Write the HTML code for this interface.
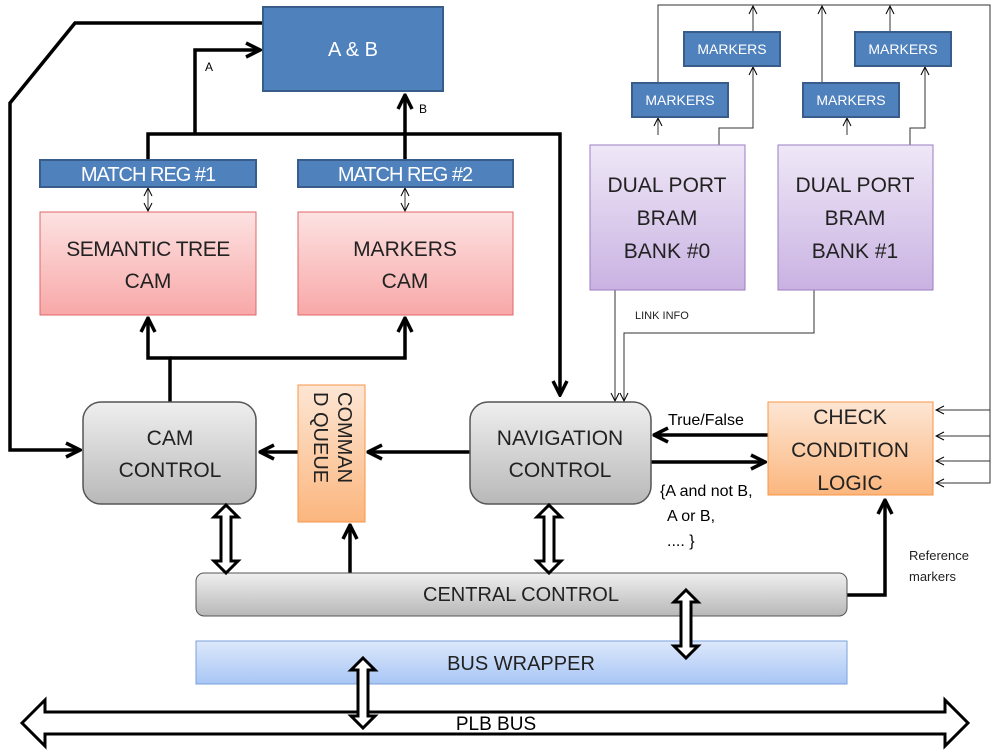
<!DOCTYPE html>
<html><head><meta charset="utf-8"><style>html,body{margin:0;padding:0;background:#fff}svg{display:block}text{font-family:"Liberation Sans",sans-serif}</style></head><body>
<svg width="1000" height="752" viewBox="0 0 1000 752" xmlns="http://www.w3.org/2000/svg">
<defs>
<linearGradient id="pink" x1="0" y1="0" x2="0" y2="1"><stop offset="0" stop-color="#fde2e2"/><stop offset="1" stop-color="#f8a8a8"/></linearGradient>
<linearGradient id="gray" x1="0" y1="0" x2="0" y2="1"><stop offset="0" stop-color="#efefef"/><stop offset="1" stop-color="#b8b8b8"/></linearGradient>
<linearGradient id="org" x1="0" y1="0" x2="0" y2="1"><stop offset="0" stop-color="#fde6d4"/><stop offset="1" stop-color="#fbb67e"/></linearGradient>
<linearGradient id="purp" x1="0" y1="0" x2="0" y2="1"><stop offset="0" stop-color="#efe8f7"/><stop offset="1" stop-color="#c9b2e2"/></linearGradient>
<linearGradient id="lblue" x1="0" y1="0" x2="0" y2="1"><stop offset="0" stop-color="#dde8fb"/><stop offset="1" stop-color="#a8c6f5"/></linearGradient>
<marker id="ah" viewBox="0 0 10 10" refX="9" refY="5" markerWidth="5" markerHeight="5" orient="auto"><path d="M1,1 L9,5 L1,9" fill="none" stroke="#000" stroke-width="2"/></marker>
<marker id="ahs" viewBox="0 0 10 10" refX="9" refY="5" markerWidth="10" markerHeight="10" orient="auto-start-reverse"><path d="M1,1 L9,5 L1,9" fill="none" stroke="#000" stroke-width="1"/></marker>
</defs>
<g stroke="#000" stroke-width="3.5" fill="none">
<path d="M263,23 H75 L10,103 V450 H80" marker-end="url(#ah)"/>
<path d="M195,134 V50 H260" marker-end="url(#ah)"/>
<path d="M148,160 V134 H560 V395" marker-end="url(#ah)"/>
<path d="M405,160 V95" marker-end="url(#ah)"/>
<path d="M170,402 V358 H148 V318"  marker-end="url(#ah)"/>
<path d="M170,358 H405 V318" marker-end="url(#ah)"/>
<path d="M298,452 H260" marker-end="url(#ah)"/>
<path d="M470,452 H368" marker-end="url(#ah)"/>
<path d="M350,573 V525" marker-end="url(#ah)"/>
<path d="M768,435 H654" marker-end="url(#ah)"/>
<path d="M651,462 H765" marker-end="url(#ah)"/>
<path d="M847,595 H885 V500" marker-end="url(#ah)"/>
</g>
<g stroke="#333" stroke-width="1" fill="none">
<path d="M148,188 V211" marker-end="url(#ahs)" marker-start="url(#ahs)"/>
<path d="M405,188 V211" marker-end="url(#ahs)" marker-start="url(#ahs)"/>
<path d="M658,83 V5 H990 V483 H936" marker-end="url(#ahs)"/>
<path d="M990,410 H936" marker-end="url(#ahs)"/>
<path d="M990,436 H936" marker-end="url(#ahs)"/>
<path d="M990,461 H936" marker-end="url(#ahs)"/>
<path d="M753,32 V6" marker-end="url(#ahs)"/>
<path d="M822,83 V6" marker-end="url(#ahs)"/>
<path d="M890,32 V6" marker-end="url(#ahs)"/>
<path d="M658,135 V118" marker-end="url(#ahs)"/>
<path d="M847,135 V118" marker-end="url(#ahs)"/>
<path d="M719,145 V128 H753 V67" marker-end="url(#ahs)"/>
<path d="M910,145 V128 H925 V67" marker-end="url(#ahs)"/>
<path d="M615,290 V401" marker-end="url(#ahs)"/>
<path d="M814,290 V333 H624 V401" marker-end="url(#ahs)"/>
</g>
<rect x="263" y="7" width="180" height="84" fill="#4f81bd" stroke="#385d8a" stroke-width="2"/>
<text x="353" y="56" font-size="20" fill="#fff" text-anchor="middle">A &amp; B</text>
<text x="205" y="71" font-size="12">A</text>
<text x="419" y="113" font-size="12">B</text>
<rect x="40" y="160" width="216" height="27" fill="#4f81bd" stroke="#385d8a" stroke-width="2"/>
<text x="148" y="181" font-size="20" fill="#fff" text-anchor="middle" letter-spacing="-1">MATCH REG #1</text>
<rect x="298" y="160" width="215" height="27" fill="#4f81bd" stroke="#385d8a" stroke-width="2"/>
<text x="405" y="181" font-size="20" fill="#fff" text-anchor="middle" letter-spacing="-1">MATCH REG #2</text>
<rect x="40" y="212" width="216" height="103" fill="url(#pink)" stroke="#e06666"/>
<text x="148" y="256" font-size="21" text-anchor="middle" fill="#222" letter-spacing="-0.5">SEMANTIC TREE</text>
<text x="148" y="288" font-size="21" text-anchor="middle" fill="#222">CAM</text>
<rect x="298" y="212" width="215" height="103" fill="url(#pink)" stroke="#e06666"/>
<text x="405" y="256" font-size="21" text-anchor="middle" fill="#222">MARKERS</text>
<text x="405" y="288" font-size="21" text-anchor="middle" fill="#222">CAM</text>
<rect x="83" y="402" width="173" height="102" rx="18" fill="url(#gray)" stroke="#555" stroke-width="1.5"/>
<text x="170" y="445" font-size="21" text-anchor="middle" fill="#222">CAM</text>
<text x="170" y="477" font-size="21" text-anchor="middle" fill="#222">CONTROL</text>
<rect x="298" y="385" width="67" height="137" fill="url(#org)" stroke="#f79646"/>
<g transform="translate(331,392) rotate(90)"><text x="0" y="-7" font-size="20" fill="#222">COMMAN</text><text x="0" y="17" font-size="20" fill="#222">D QUEUE</text></g>
<rect x="470" y="402" width="181" height="102" rx="18" fill="url(#gray)" stroke="#555" stroke-width="1.5"/>
<text x="560" y="445" font-size="21" text-anchor="middle" fill="#222">NAVIGATION</text>
<text x="560" y="477" font-size="21" text-anchor="middle" fill="#222">CONTROL</text>
<text x="668" y="425" font-size="16" fill="#000">True/False</text>
<text x="660" y="496" font-size="16" fill="#000">{A and not B,</text>
<text x="667" y="521" font-size="16" fill="#000">A or B,</text>
<text x="667" y="546" font-size="16" fill="#000">.... }</text>
<rect x="768" y="402" width="165" height="93" fill="url(#org)" stroke="#f79646"/>
<text x="850" y="424" font-size="21" text-anchor="middle" fill="#222">CHECK</text>
<text x="850" y="457" font-size="21" text-anchor="middle" fill="#222">CONDITION</text>
<text x="850" y="490" font-size="21" text-anchor="middle" fill="#222">LOGIC</text>
<text x="909" y="560" font-size="13" fill="#222">Reference</text>
<text x="909" y="581" font-size="13" fill="#222">markers</text>
<rect x="590" y="145" width="155" height="145" fill="url(#purp)" stroke="#9b7cc3"/>
<text x="667" y="192" font-size="21" text-anchor="middle" fill="#222">DUAL PORT</text>
<text x="667" y="225" font-size="21" text-anchor="middle" fill="#222">BRAM</text>
<text x="667" y="258" font-size="21" text-anchor="middle" fill="#222">BANK #0</text>
<rect x="778" y="145" width="155" height="145" fill="url(#purp)" stroke="#9b7cc3"/>
<text x="855" y="192" font-size="21" text-anchor="middle" fill="#222">DUAL PORT</text>
<text x="855" y="225" font-size="21" text-anchor="middle" fill="#222">BRAM</text>
<text x="855" y="258" font-size="21" text-anchor="middle" fill="#222">BANK #1</text>
<text x="635" y="319" font-size="11" fill="#222">LINK INFO</text>
<g fill="#4f81bd" stroke="#385d8a" stroke-width="2">
<rect x="632" y="83" width="96" height="34"/><rect x="684" y="32" width="96" height="34"/>
<rect x="803" y="83" width="96" height="34"/><rect x="855" y="32" width="96" height="34"/>
</g>
<g font-size="14" fill="#fff" text-anchor="middle">
<text x="680" y="105">MARKERS</text><text x="732" y="54">MARKERS</text>
<text x="851" y="105">MARKERS</text><text x="903" y="54">MARKERS</text>
</g>
<rect x="196" y="573" width="651" height="43" rx="8" fill="url(#gray)" stroke="#555"/>
<text x="521" y="601" font-size="20" text-anchor="middle" fill="#222">CENTRAL CONTROL</text>
<rect x="196" y="641" width="651" height="43" fill="url(#lblue)" stroke="#7aa2dc"/>
<text x="521" y="670" font-size="20" text-anchor="middle" fill="#222">BUS WRAPPER</text>
<g fill="#fff" stroke="#000" stroke-width="3">
<polygon points="22,723 45,700 45,712 945,712 945,700 968,723 945,746 945,734 45,734 45,746"/>
<polygon points="226,505 238,517 231,517 231,561 238,561 226,573 214,561 221,561 221,517 214,517"/>
<polygon points="549,505 561,517 554,517 554,561 561,561 549,573 537,561 544,561 544,517 537,517"/>
<polygon points="686,590 698,602 691,602 691,646 698,646 686,658 674,646 681,646 681,602 674,602"/>
<polygon points="363,658 375,670 368,670 368,716 375,716 363,728 351,716 358,716 358,670 351,670"/>
</g>
<text x="496" y="730" font-size="19" text-anchor="middle" fill="#000">PLB BUS</text>
</svg>
</body></html>
